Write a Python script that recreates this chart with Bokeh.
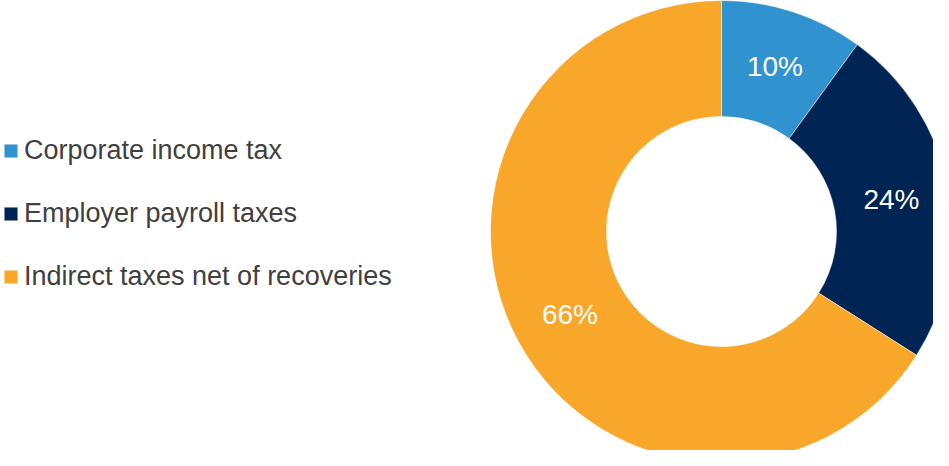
import math
from bokeh.plotting import figure
from bokeh.models import Range1d, ColumnDataSource, Legend, LegendItem
from bokeh.core.properties import value
from bokeh.embed import file_html
from bokeh.resources import INLINE

categories = ["Corporate income tax", "Employer payroll taxes", "Indirect taxes net of recoveries"]
shares = [10, 24, 66]
labels = ["10%", "24%", "66%"]
colors = ["#3192D0", "#002554", "#F9A72B"]

W, H = 933, 450
CX, CY = 721, 231  # donut centre in pixels from left / from top
R_OUT, R_IN = 231, 115

total = sum(shares)
starts, ends, mids = [], [], []
a = math.pi / 2
for s in shares:
    span = 2 * math.pi * s / total
    starts.append(a)
    ends.append(a - span)
    mids.append(a - span / 2)
    a -= span

r_lab = (R_OUT + R_IN) / 2
src = ColumnDataSource(dict(
    cat=categories, start=starts, end=ends, color=colors,
    lx=[r_lab * math.cos(m) for m in mids],
    ly=[r_lab * math.sin(m) for m in mids],
    lab=labels,
))

p = figure(width=W, height=H, output_backend="svg", toolbar_location=None,
           x_range=Range1d(-CX, W - CX), y_range=Range1d(-(H - CY), CY),
           min_border=0, outline_line_color=None)
p.axis.visible = False
p.grid.visible = False
p.background_fill_color = "white"

w = p.annular_wedge(x=0, y=0, inner_radius=R_IN, outer_radius=R_OUT,
                    start_angle="start", end_angle="end", direction="clock",
                    fill_color="color", line_color="white", line_width=0.5,
                    source=src)

p.text(x="lx", y="ly", text="lab", source=src, text_color="white",
       text_font=value("Liberation Sans"), text_font_size="28px",
       text_align="center", text_baseline="middle")

items = [LegendItem(label=c, renderers=[w], index=i) for i, c in enumerate(categories)]
legend = Legend(items=items, location=(2, 158), orientation="vertical",
                glyph_width=17, glyph_height=17, label_standoff=5,
                label_text_font="Liberation Sans", label_text_font_size="27px",
                label_text_color="#404040", label_height=32, spacing=31,
                padding=0, margin=0, border_line_color=None,
                background_fill_alpha=0)
p.add_layout(legend, "center")

open("out.html", "w").write(file_html(p, INLINE))
